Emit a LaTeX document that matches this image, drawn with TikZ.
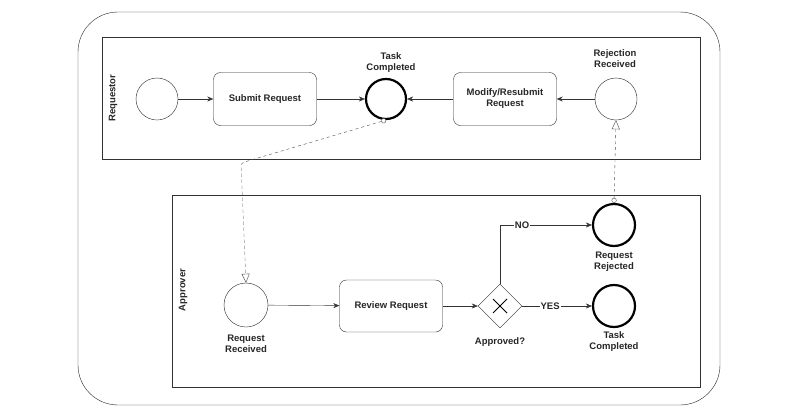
\documentclass[tikz,border=0pt]{standalone}
\usepackage{fontspec}
\setmainfont{Liberation Sans}
\usetikzlibrary{arrows.meta,shapes.geometric}
\begin{document}
\begin{tikzpicture}[x=1pt,y=-1pt,
  lbl/.style={font=\bfseries\fontsize{9.5}{11}\selectfont,align=center,text=black!85},
  ev/.style={circle,draw=black!85,minimum size=42pt,inner sep=0pt},
  endev/.style={circle,draw=black,line width=2.2pt,minimum size=40pt,inner sep=0pt},
  task/.style={rectangle,rounded corners=7pt,draw=black!85,minimum width=103pt,minimum height=53pt,lbl},
  flow/.style={draw=black!80,-{Stealth[length=6pt,width=5pt]}},
  msg/.style={draw=black!70,dashed,{Circle[open,length=5pt,fill=white]}-{Triangle[open,length=9pt,width=8pt,fill=white]}},
  pool/.style={draw=black!80}]
\useasboundingbox (0,0) rectangle (800,418);
\draw[black!85,rounded corners=40pt] (78,12) rectangle (720,405);
% pools
\draw[pool] (102,37) rectangle (700,159);
\node[lbl,rotate=90] (lr) at (113,98) {Requestor};
\draw[pool] (172,195) rectangle (700,387);
\node[lbl,rotate=90] (la) at (183,290) {Approver};
% requestor lane
\node[ev] (s) at (157,99) {};
\node[task] (sub) at (265,99) {Submit Request};
\node[endev] (tc1) at (386,99) {};
\node[lbl] (tc1l) at (391,63) {Task\\Completed};
\node[task] (mod) at (505,99) {Modify/Resubmit\\Request};
\node[ev] (rr) at (616,99) {};
\node[lbl] (rrl) at (615,59) {Rejection\\Received};
\draw[flow] (s) -- (sub);
\draw[flow] (sub) -- (tc1);
\draw[flow] (mod) -- (tc1);
\draw[flow] (rr) -- (mod);
% approver lane
\node[ev,minimum size=44pt] (rq) at (246,305) {};
\node[lbl] (rql) at (246,344) {Request\\Received};
\node[task,minimum height=52pt] (rev) at (391,306) {Review Request};
\node[diamond,draw=black!85,minimum size=44pt,inner sep=0pt] (gw) at (500,306) {};
\draw[black,line width=1pt] (493,299) -- (507,313) (507,299) -- (493,313);
\node[lbl] (gwl) at (500,342) {Approved?};
\node[endev,minimum size=42pt] (rj) at (614,225) {};
\node[lbl] (rjl) at (614,262) {Request\\Rejected};
\node[endev,minimum size=42pt] (tc2) at (614,306) {};
\node[lbl] (tc2l) at (614,342) {Task\\Completed};
\draw[flow] (rq) -- (rev);
\draw[flow] (rev) -- (gw);
\draw[flow] (gw.north) |- node[lbl,fill=white,pos=0.62,inner sep=1pt]{NO} (rj);
\draw[flow] (gw) -- node[lbl,fill=white,pos=0.4,inner sep=1pt]{YES} (tc2);
% message flows
\coordinate (m1) at (241,163);
\draw[msg,rounded corners=3pt] (tc1.south) -- (m1) -- (rq.north);
\draw[msg] (rj.north) -- (rr.south);
\end{tikzpicture}
\end{document}
